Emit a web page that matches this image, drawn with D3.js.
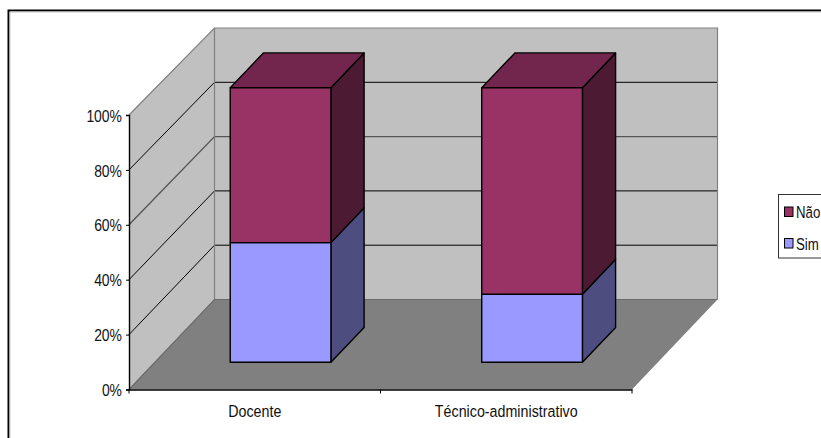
<!DOCTYPE html>
<html>
<head>
<meta charset="utf-8">
<script src="https://cdn.jsdelivr.net/npm/d3@7/dist/d3.min.js"></script>
<style>
  html, body { margin: 0; padding: 0; background: #fff; overflow: hidden; }
  svg { display: block; }
  text { font-family: "Liberation Sans", Arial, sans-serif; font-size: 17px; fill: #111; }
</style>
</head>
<body>
<div id="chart"></div>
<script>
// Stacked 100% column chart in an oblique 3-D frame
const categories = ["Docente", "Técnico-administrativo"];
const seriesNames = ["Sim", "Não"];
const simValues = [43.6, 24.8];
const naoValues = [56.4, 75.2];
const tickValues = [0, 20, 40, 60, 80, 100];
const legendOrder = ["Não", "Sim"];

const faceColors = {
  "Sim": { front: "#9999ff", side: "#4d4d80", top: "#73739f" },
  "Não": { front: "#993366", side: "#4d1a33", top: "#73264d" }
};

const width = 821, height = 438;
const svg = d3.select("#chart").append("svg").attr("width", width).attr("height", height);

// Frame scales: front plane, back wall and depth offset
const x = d3.scaleBand().domain(categories).range([129, 632]).paddingInner(0).paddingOuter(0);
const yFront = d3.scaleLinear().domain([0, 100]).range([389.5, 115]);
const yBack = d3.scaleLinear().domain([0, 100]).range([299.5, 28]);
const depthX = d3.scaleLinear().domain([0, 1]).range([0, 85.5]);
const depthY = d3.scaleLinear().domain([0, 1]).range([0, -90]);

const barWidth = 100.7;
const barDepthStart = 0.302, barDepthEnd = 0.69;
const poly = pts => pts.map(p => p.join(",")).join(" ");

// Condenses a text run horizontally around its anchor
function condense(selection, factor) {
  selection.each(function () {
    const ax = +this.getAttribute("x") || 0;
    this.setAttribute("transform", `translate(${ax},0) scale(${factor},1) translate(${-ax},0)`);
  });
}

// Chart area border
svg.append("path").attr("d", `M8.5,${height}V10.5H${width}`).attr("fill", "none").attr("stroke", "#000").attr("stroke-width", 2);
svg.append("path").attr("d", `M10,${height}V12H${width}`).attr("fill", "none").attr("stroke", "#c8c8c8").attr("stroke-width", 1);

const xL = x.range()[0], xR = x.range()[1];
const dX = depthX(1);

// Back wall, side wall and floor
svg.append("polygon").attr("fill", "#c0c0c0")
  .attr("points", poly([[xL + dX, yBack(100)], [xR + dX, yBack(100)], [xR + dX, yBack(0)], [xL + dX, yBack(0)]]));
svg.append("polygon").attr("fill", "#c0c0c0")
  .attr("points", poly([[xL, yFront(100)], [xL + dX, yBack(100)], [xL + dX, yBack(0)], [xL, yFront(0)]]));
svg.append("polygon").attr("fill", "#808080")
  .attr("points", poly([[xL, yFront(0)], [xR, yFront(0)], [xR + dX, yBack(0)], [xL + dX, yBack(0)]]));

// Gridlines on both walls
tickValues.filter(v => v > 0 && v < 100).forEach(v => {
  const stroke = v === 60 ? "#555" : "#000";
  const sw = v === 60 ? 1.4 : 1;
  svg.append("polyline").attr("fill", "none").attr("stroke", stroke).attr("stroke-width", sw)
    .attr("points", poly([[xL, yFront(v)], [xL + dX, yBack(v)], [xR + dX, yBack(v)]]));
});

// Wall outlines
svg.append("polyline").attr("fill", "none").attr("stroke", "#808080").attr("stroke-width", 1.2)
  .attr("points", poly([[xL, yFront(100)], [xL + dX, yBack(100)], [xR + dX, yBack(100)], [xR + dX, yBack(0)]]));
svg.append("line").attr("stroke", "#808080").attr("stroke-width", 1.2)
  .attr("x1", xL + dX).attr("x2", xL + dX).attr("y1", yBack(100)).attr("y2", yBack(0));
svg.append("polyline").attr("fill", "none").attr("stroke", "#6a6a6a").attr("stroke-width", 1.2)
  .attr("points", poly([[xL, yFront(0)], [xL + dX, yBack(0)], [xR + dX, yBack(0)]]));

// Stacked columns
const rows = categories.map((c, i) => ({ category: c, "Sim": simValues[i], "Não": naoValues[i] }));
const stacked = d3.stack().keys(seriesNames)(rows);

categories.forEach((c, i) => {
  const left = x(c) + (x.bandwidth() - barWidth) / 2;
  const right = left + barWidth;
  const fx0 = left + depthX(barDepthStart), fx1 = right + depthX(barDepthStart);
  const bx0 = left + depthX(barDepthEnd), bx1 = right + depthX(barDepthEnd);
  const fy = v => yFront(v) + depthY(barDepthStart);
  const by = v => yFront(v) + depthY(barDepthEnd);

  stacked.forEach(layer => {
    const [v0, v1] = layer[i];
    const colors = faceColors[layer.key];
    const g = svg.append("g").attr("stroke", "#000").attr("stroke-width", 1.4).attr("stroke-linejoin", "round");
    g.append("polygon").attr("fill", colors.side)
      .attr("points", poly([[fx1, fy(v0)], [bx1, by(v0)], [bx1, by(v1)], [fx1, fy(v1)]]));
    if (v1 >= 100) {
      g.append("polygon").attr("fill", colors.top)
        .attr("points", poly([[fx0, fy(v1)], [bx0, by(v1)], [bx1, by(v1)], [fx1, fy(v1)]]));
    }
    g.append("polygon").attr("fill", colors.front)
      .attr("points", poly([[fx0, fy(v0)], [fx1, fy(v0)], [fx1, fy(v1)], [fx0, fy(v1)]]));
  });
});

// Value axis
const yAxis = d3.axisLeft(yFront).tickValues(tickValues).tickFormat(d => d + "%").tickSize(3).tickPadding(4);
const yG = svg.append("g").attr("transform", `translate(${xL},0)`).call(yAxis);
yG.select(".domain").attr("stroke", "#000").attr("stroke-width", 1.4);
yG.selectAll("line").attr("stroke", "#000");
yG.attr("font-family", null).attr("font-size", null);
yG.selectAll("text").attr("fill", "#111").attr("dy", "0.36em").call(condense, 0.82);

// Category axis
const xAxis = d3.axisBottom(x).tickSize(0).tickPadding(15);
const xG = svg.append("g").attr("transform", `translate(0,${yFront(0)})`).call(xAxis);
xG.select(".domain").attr("stroke", "#000").attr("stroke-width", 1.4);
xG.attr("font-family", null).attr("font-size", null);
xG.selectAll("text").attr("fill", "#111").call(condense, 0.84);
[xL, xL + x.bandwidth(), xR].forEach(px => {
  svg.append("line").attr("x1", px).attr("x2", px).attr("y1", yFront(0)).attr("y2", yFront(0) + 4).attr("stroke", "#000");
});

// Legend, whose box runs past the right edge of the chart
const legend = svg.append("g");
legend.append("rect").attr("x", 778.5).attr("y", 194.5).attr("width", 60).attr("height", 63.5)
  .attr("fill", "#fff").attr("stroke", "#333").attr("stroke-width", 1);
legendOrder.forEach((name, i) => {
  const row = legend.append("g").attr("transform", `translate(784.5,${207 + i * 31.5})`);
  row.append("rect").attr("width", 8.5).attr("height", 9.5)
    .attr("fill", faceColors[name].front).attr("stroke", "#000");
  row.append("text").attr("x", 11.5).attr("y", 11).text(name).call(condense, 0.78);
});
</script>
</body>
</html>
